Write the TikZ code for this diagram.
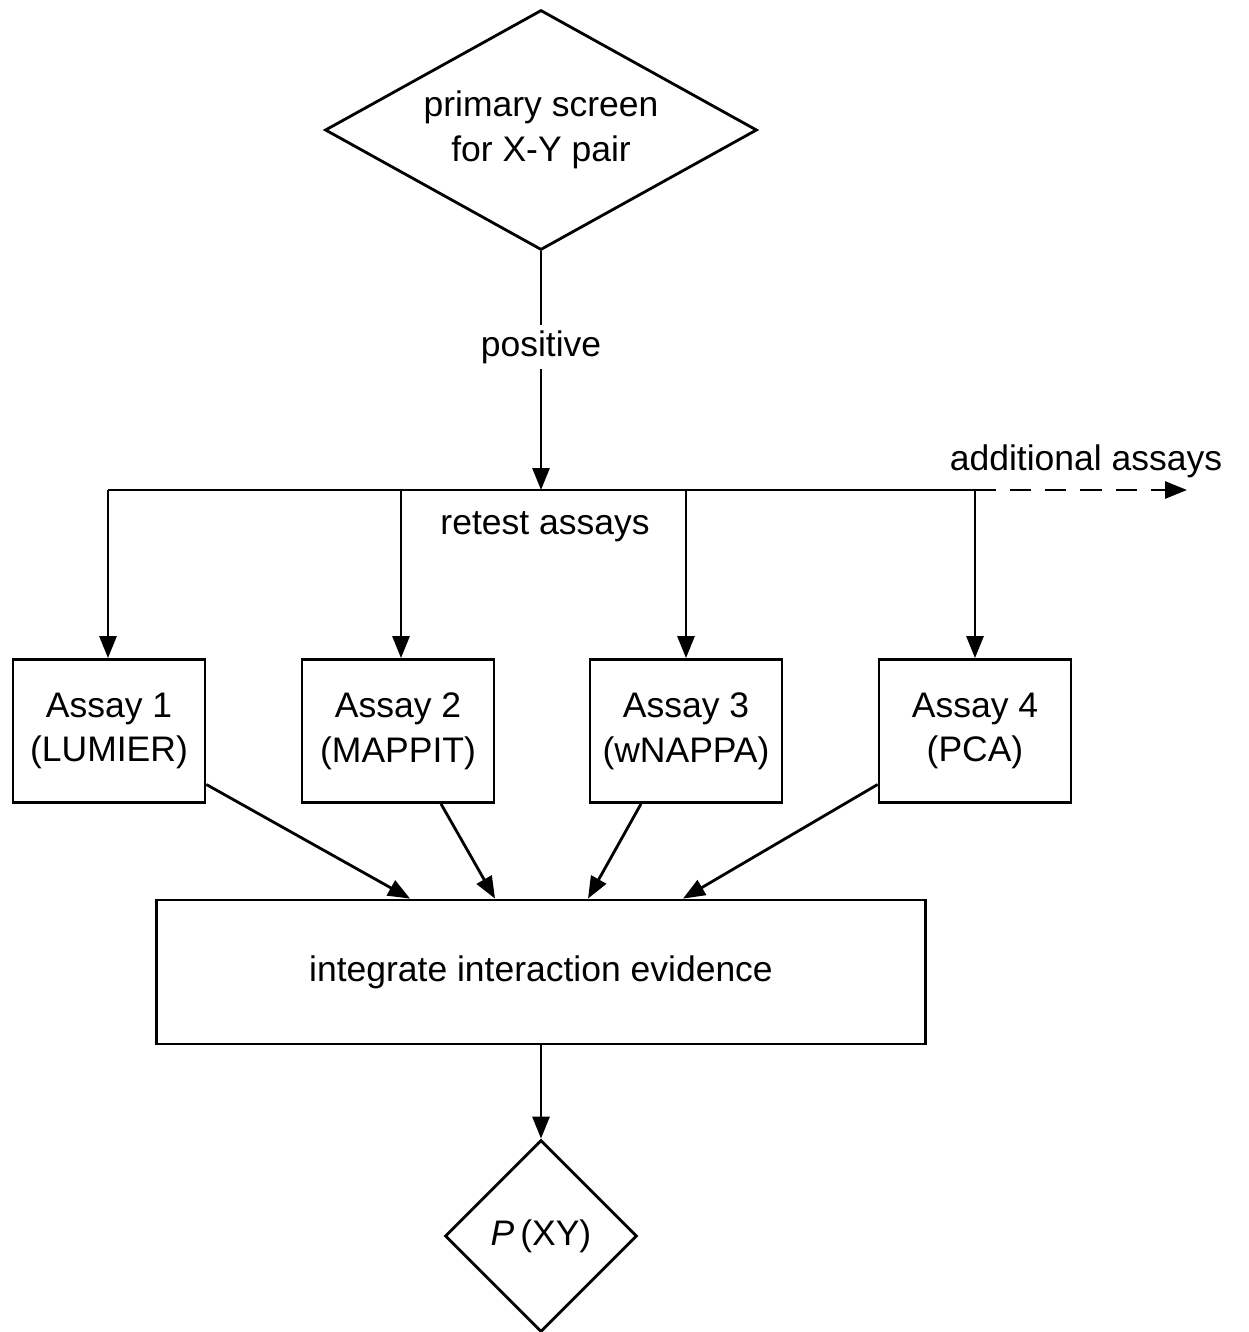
\documentclass[tikz,border=0pt]{standalone}
\usepackage{fontspec}
\setmainfont{Liberation Sans}
\usetikzlibrary{shapes.geometric,arrows.meta}

\begin{document}
\begin{tikzpicture}[x=0.02cm,y=-0.02cm,line width=1.6pt,
		font=\fontsize{20.2}{25.5}\selectfont,
		>={Triangle[length=0.44cm,width=0.34cm]},
		assay/.style={draw,minimum width=3.84cm,minimum height=2.86cm,align=center,inner sep=0pt},
		decision/.style={draw,diamond,aspect=1.8,inner sep=0pt,align=center}]
		\useasboundingbox (0,0) rectangle (1248,1332);
		% screen and retest boxes
		\node[decision,minimum width=8.64cm,minimum height=4.8cm] (screen) at (541,130) {primary screen\\for X-Y pair};
		\node[assay] (a1) at (109,731) {Assay 1\\(LUMIER)};
		\node[assay] (a2) at (398,731) {Assay 2\\(MAPPIT)};
		\node[assay] (a3) at (686,731) {Assay 3\\(wNAPPA)};
		\node[assay] (a4) at (975,731) {Assay 4\\(PCA)};
		\node[draw,minimum width=15.38cm,minimum height=2.88cm,inner sep=0pt] (ev) at (541,972) {integrate interaction evidence};
		\node[decision,aspect=1,minimum width=3.84cm,minimum height=3.84cm] (pxy) at (541,1236) {\textit{P}\,(XY)};
		% branch line
		\coordinate (br) at (541,490);
		\coordinate (b1) at (108,490);
		\coordinate (b2) at (401,490);
		\coordinate (b3) at (686,490);
		\coordinate (b4) at (975,490);
		\coordinate (more) at (1187,490);
		\draw[->] (screen.south) -- node[fill=white,inner sep=3pt,pos=0.4] (pos) {positive} (br);
		\draw (b1) -- (b4);
		\draw[->,dashed,dash pattern=on 12pt off 8pt] (b4) -- (more);
		\node (add) at (1086,461) {additional assays};
		\node (ret) at (545,527) {retest assays};
		\draw[->] (b1) -- (b1 |- a1.north);
		\draw[->] (b2) -- (b2 |- a2.north);
		\draw[->] (b3) -- (a3.north);
		\draw[->] (b4) -- (a4.north);
		% into the evidence box
		\draw[->] ([yshift=-1.07cm]a1.east) -- ([xshift=-2.62cm]ev.north);
		\draw[->] ([xshift=0.86cm]a2.south) -- ([xshift=-0.92cm]ev.north);
		\draw[->] ([xshift=-0.9cm]a3.south) -- ([xshift=0.94cm]ev.north);
		\draw[->] ([yshift=-1.07cm]a4.west) -- ([xshift=2.84cm]ev.north);
		\draw[->] (ev.south) -- (pxy.north);
\end{tikzpicture}
\end{document}
